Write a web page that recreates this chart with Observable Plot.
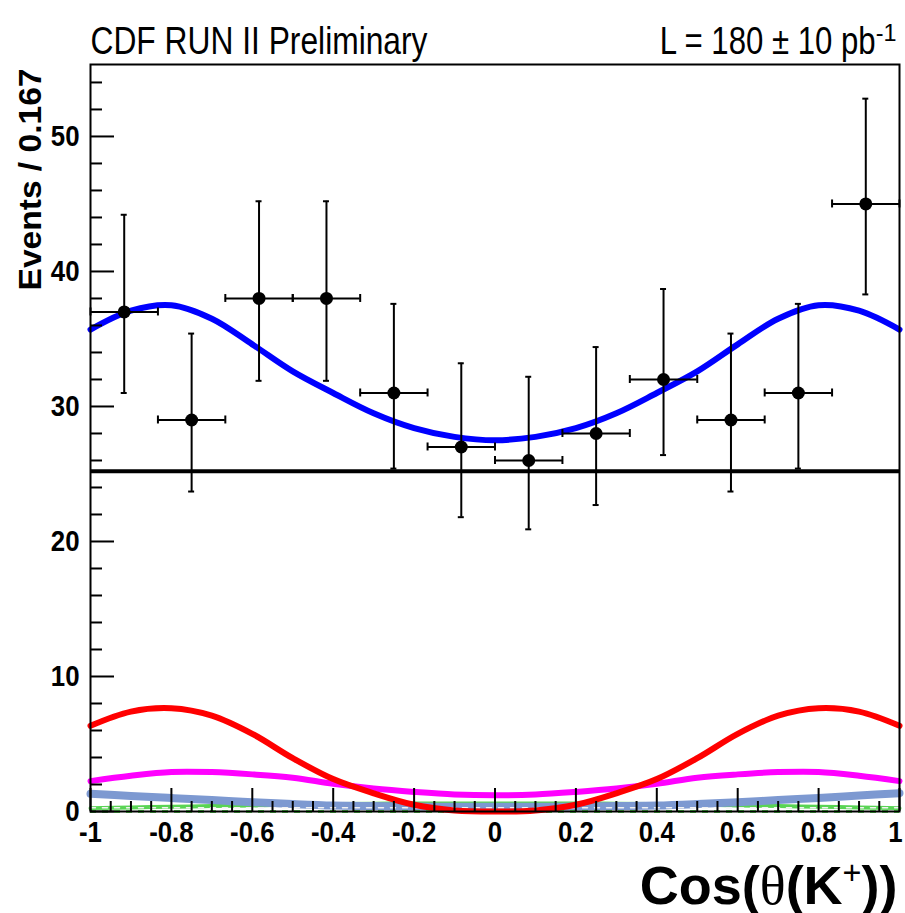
<!DOCTYPE html>
<html><head><meta charset="utf-8">
<script src="https://cdn.jsdelivr.net/npm/d3@7"></script>
<script src="https://cdn.jsdelivr.net/npm/@observablehq/plot@0.6"></script>
<style>
body{margin:0;background:#fff}
</style></head><body><div id="chart"></div>
<script>
// ---- data ----
const binEdges = [-1, -0.8333, -0.6667, -0.5, -0.3333, -0.1667, 0, 0.1667, 0.3333, 0.5, 0.6667, 0.8333, 1];
const counts  = [37, 29, 38, 38, 31, 27, 26, 28, 32, 29, 31, 45];
const errLow  = [31.0, 23.7, 31.9, 31.9, 25.4, 21.8, 20.9, 22.7, 26.4, 23.7, 25.4, 38.3];
const errHigh = [44.2, 35.4, 45.2, 45.2, 37.6, 33.2, 32.2, 34.4, 38.7, 35.4, 37.6, 52.8];

const curveX     = [-1, -0.9, -0.8, -0.7, -0.6, -0.5, -0.4, -0.3, -0.2, -0.1, 0, 0.1, 0.2, 0.3, 0.4, 0.5, 0.6, 0.7, 0.8, 0.9, 1];
const totalFit   = [35.7, 37.1, 37.5, 36.5, 34.6, 32.6, 31.0, 29.5, 28.4, 27.75, 27.5, 27.75, 28.4, 29.5, 31.0, 32.6, 34.6, 36.5, 37.5, 37.1, 35.7];
const redComp    = [6.35, 7.4, 7.65, 7.1, 5.75, 3.95, 2.4, 1.35, 0.5, 0.08, 0, 0.08, 0.5, 1.35, 2.4, 3.95, 5.75, 7.1, 7.65, 7.4, 6.35];
const magentaComp= [2.25, 2.65, 2.93, 2.92, 2.75, 2.5, 2.05, 1.7, 1.45, 1.26, 1.2, 1.26, 1.45, 1.7, 2.05, 2.5, 2.75, 2.92, 2.93, 2.65, 2.25];
const lightComp  = [1.31, 1.15, 1.0, 0.85, 0.69, 0.55, 0.44, 0.4, 0.37, 0.35, 0.35, 0.35, 0.37, 0.4, 0.44, 0.55, 0.69, 0.85, 1.0, 1.18, 1.36];
const greenComp  = [0.25, 0.3, 0.35, 0.4, 0.45, 0.5, 0.55, 0.58, 0.6, 0.6, 0.6, 0.6, 0.6, 0.58, 0.55, 0.5, 0.45, 0.4, 0.35, 0.3, 0.25];
const whiteComp  = [0.27, 0.27, 0.27, 0.27, 0.27, 0.27, 0.27, 0.27, 0.27, 0.27, 0.27, 0.27, 0.27, 0.27, 0.27, 0.27, 0.27, 0.27, 0.27, 0.27, 0.27];
const flatLevel  = [25.2];
const zeroLevel  = [0];

const xMajor = [-1, -0.8, -0.6, -0.4, -0.2, 0, 0.2, 0.4, 0.6, 0.8, 1];
const xMinor = [-0.95, -0.9, -0.85, -0.75, -0.7, -0.65, -0.55, -0.5, -0.45, -0.35, -0.3, -0.25, -0.15, -0.1, -0.05,
                0.05, 0.1, 0.15, 0.25, 0.3, 0.35, 0.45, 0.5, 0.55, 0.65, 0.7, 0.75, 0.85, 0.9, 0.95];
const yMajor = [0, 10, 20, 30, 40, 50];
const yMinor = [2, 4, 6, 8, 12, 14, 16, 18, 22, 24, 26, 28, 32, 34, 36, 38, 42, 44, 46, 48, 52, 54];

const titleLeft = "CDF RUN II Preliminary";
const titleRight = "L = 180 ± 10 pb";
const titleRightSup = "-1";
const yTitle = "Events / 0.167";
const xTitle = "Cos(θ(K⁺))";

// ---- build ----
const W = 905, H = 913, ML = 90, MR = 6, MT = 64, MB = 102;
const innerW = W - ML - MR, innerH = H - MT - MB;

const pts = counts.map((c, i) => ({
  x: (binEdges[i] + binEdges[i + 1]) / 2, x1: binEdges[i], x2: binEdges[i + 1],
  y: c, lo: errLow[i], hi: errHigh[i]
}));
const curves = curveX.map((x, i) => ({
  x, total: totalFit[i], red: redComp[i], magenta: magentaComp[i],
  light: lightComp[i], green: greenComp[i], white: whiteComp[i]
}));

const sans = "'Liberation Sans', Arial, Helvetica, sans-serif";
const cr = "catmull-rom";

const chart = Plot.plot({
  width: W, height: H,
  marginLeft: ML, marginRight: MR, marginTop: MT, marginBottom: MB,
  style: {fontFamily: sans, background: "white", color: "black", overflow: "visible"},
  x: {domain: [-1, 1]},
  y: {domain: [0, 55.33]},
  marks: [
    Plot.ruleY(flatLevel, {y: d => d, stroke: "black", strokeWidth: 4}),
    Plot.line(curves, {x: "x", y: "green", stroke: "#59d454", strokeWidth: 4, curve: cr}),
    Plot.line(curves, {x: "x", y: "light", stroke: "#7d99d1", strokeWidth: 8, curve: cr}),
    Plot.line(curves, {x: "x", y: "white", stroke: "#f2f2f2", strokeWidth: 1.5, strokeDasharray: "5,7", curve: cr}),
    Plot.ruleY(zeroLevel, {y: d => d, stroke: "#59d454", strokeWidth: 3, strokeDasharray: "6,6"}),
    Plot.line(curves, {x: "x", y: "magenta", stroke: "#ff00ff", strokeWidth: 6, curve: cr}),
    Plot.line(curves, {x: "x", y: "red", stroke: "#ff0000", strokeWidth: 6, curve: cr}),
    Plot.line(curves, {x: "x", y: "total", stroke: "#0000ff", strokeWidth: 6, curve: cr}),

    Plot.ruleX(pts, {x: "x", y1: "lo", y2: "hi", stroke: "black", strokeWidth: 2}),
    Plot.ruleY(pts, {y: "y", x1: "x1", x2: "x2", stroke: "black", strokeWidth: 2}),
    Plot.ruleY(pts, {y: "lo", x1: "x", x2: "x", insetLeft: -3, insetRight: -3, stroke: "black", strokeWidth: 2}),
    Plot.ruleY(pts, {y: "hi", x1: "x", x2: "x", insetLeft: -3, insetRight: -3, stroke: "black", strokeWidth: 2}),
    Plot.ruleX(pts, {x: "x1", y1: "y", y2: "y", insetTop: -4, insetBottom: -4, stroke: "black", strokeWidth: 2}),
    Plot.ruleX(pts, {x: "x2", y1: "y", y2: "y", insetTop: -4, insetBottom: -4, stroke: "black", strokeWidth: 2}),
    Plot.dot(pts, {x: "x", y: "y", r: 6.5, fill: "black", stroke: "none"}),

    Plot.tickY(yMinor, {y: d => d, insetRight: innerW - 12, stroke: "black", strokeWidth: 2}),
    Plot.tickY(yMajor, {y: d => d, insetRight: innerW - 24, stroke: "black", strokeWidth: 2}),
    Plot.tickX(xMinor, {x: d => d, insetTop: innerH - 10, stroke: "black", strokeWidth: 2}),
    Plot.tickX(xMajor, {x: d => d, insetTop: innerH - 23, stroke: "black", strokeWidth: 2}),
    Plot.axisY(yMajor, {tickSize: 0, tickPadding: 11, fontSize: 30, fontWeight: "bold", label: null, tickFormat: d => String(d)}),
    Plot.axisX(xMajor, {tickSize: 0, tickPadding: 9, fontSize: 30, fontWeight: "bold", label: null, tickFormat: d => String(d)}),
    Plot.frame({stroke: "black", strokeWidth: 2}),

    Plot.text([titleLeft], {text: d => d, frameAnchor: "top-left", textAnchor: "start", lineAnchor: "bottom", dy: -11, fontSize: 39}),
    Plot.text([titleRight], {text: d => d, frameAnchor: "top-right", textAnchor: "end", lineAnchor: "bottom", dy: -11, dx: -3, fontSize: 39}),
    Plot.text([yTitle], {text: d => d, frameAnchor: "top-left", textAnchor: "end", lineAnchor: "middle", rotate: -90, dx: -60, dy: 4, fontSize: 32, fontWeight: "bold"}),
    Plot.text([xTitle], {text: d => d, frameAnchor: "bottom-right", textAnchor: "end", lineAnchor: "bottom", dy: 92, dx: -2, fontSize: 54, fontWeight: "bold"})
  ]
});

document.getElementById("chart").appendChild(chart);

const NS = "http://www.w3.org/2000/svg";
function squeeze(el, len) {
  el.setAttribute("textLength", len);
  el.setAttribute("lengthAdjust", "spacingAndGlyphs");
}

// narrow (condensed) look, as in the reference
chart.querySelectorAll('[aria-label="y-axis tick label"] text, [aria-label="x-axis tick label"] text').forEach(t => {
  squeeze(t, t.getComputedTextLength() * 0.86);
});
const xLabs = chart.querySelectorAll('[aria-label="x-axis tick label"] text');
if (xLabs.length) {
  const last = xLabs[xLabs.length - 1];
  last.setAttribute("dx", "-4");
}

chart.querySelectorAll("text").forEach(t => {
  if (t.textContent === titleLeft) {
    squeeze(t, 337);
  } else if (t.textContent === yTitle) {
    squeeze(t, 222);
  } else if (t.textContent === titleRight) {
    t.textContent = "";
    const m = document.createElementNS(NS, "tspan");
    m.textContent = titleRight;
    squeeze(m, 216);
    const s = document.createElementNS(NS, "tspan");
    s.textContent = titleRightSup;
    s.setAttribute("dy", "-0.55em");
    s.setAttribute("font-size", "0.6em");
    t.appendChild(m);
    t.appendChild(s);
  } else if (t.textContent === xTitle) {
    const parts = [["Cos(", {}], ["θ", {"font-family": "'Liberation Serif', serif", "font-weight": "normal"}],
                   ["(K", {}], ["+", {"font-size": "0.6em", "dy": "-0.6em", "font-weight": "normal"}], ["))", {"dy": "0.36em"}]];
    t.textContent = "";
    parts.forEach(([txt, attrs]) => {
      const s = document.createElementNS(NS, "tspan");
      s.textContent = txt;
      for (const k in attrs) s.setAttribute(k, attrs[k]);
      t.appendChild(s);
    });
  }
});
</script></body></html>
